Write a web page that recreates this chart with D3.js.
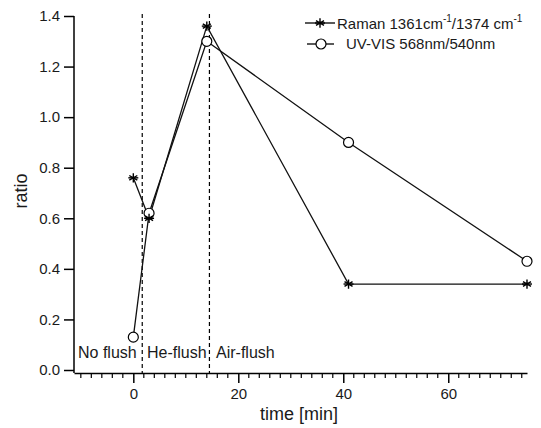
<!DOCTYPE html>
<html>
<head>
<meta charset="utf-8">
<script src="https://cdn.jsdelivr.net/npm/d3@7"></script>
<style>
  body { margin: 0; background: #fff; }
  svg { font-family: "Liberation Sans", Arial, sans-serif; }
</style>
</head>
<body>
<div id="chart"></div>
<script>
// Data
const ramanTime = [0, 3, 14, 41, 75];
const ramanRatio = [0.76, 0.60, 1.36, 0.34, 0.34];
const uvTime = [0, 3, 14, 41, 75];
const uvRatio = [0.13, 0.62, 1.30, 0.90, 0.43];
const flushTimes = [1.7, 14.5];
const flushLabels = ["No flush", "He-flush", "Air-flush"];
const xTicks = [0, 20, 40, 60];
const yTicks = [0, 0.2, 0.4, 0.6, 0.8, 1.0, 1.2, 1.4];

const width = 541, height = 428;

const svg = d3.select("#chart")
  .append("svg")
  .attr("width", width)
  .attr("height", height);

const xScale = d3.scaleLinear().domain([-11.3, 75]).range([74, 527]);
const yScale = d3.scaleLinear().domain([0, 1.4]).range([370, 16]);
const axisY = 373;

// y axis
const yAxis = d3.axisLeft(yScale)
  .tickValues(yTicks)
  .tickFormat(d3.format(".1f"))
  .tickSize(10)
  .tickSizeOuter(0);

const yAxisGroup = svg.append("g")
  .attr("transform", "translate(74,0)")
  .call(yAxis);
yAxisGroup.select(".domain").attr("d", `M0,${yScale(1.4)}V${axisY}`).attr("stroke-width", 1.5);
yAxisGroup.selectAll(".tick line").attr("stroke-width", 1.5);
yAxisGroup.selectAll("text")
  .style("font-size", "15px")
  .attr("fill", "#1a1a1a")
  .attr("x", -14);

// x axis, major and minor ticks
const xAxis = d3.axisBottom(xScale)
  .tickValues(xTicks)
  .tickSize(10)
  .tickSizeOuter(0);

const xAxisGroup = svg.append("g")
  .attr("transform", `translate(0,${axisY})`)
  .call(xAxis);
xAxisGroup.select(".domain").attr("stroke-width", 1.5);
xAxisGroup.selectAll(".tick line").attr("stroke-width", 1.5);
xAxisGroup.selectAll("text")
  .style("font-size", "15px")
  .attr("fill", "#1a1a1a")
  .attr("y", 15);

const minorTicks = d3.range(-10, 76, 2).filter(function (d) { return d % 20 !== 0; });
svg.append("g")
  .selectAll("line")
  .data(minorTicks)
  .enter()
  .append("line")
  .attr("x1", function (d) { return xScale(d); })
  .attr("x2", function (d) { return xScale(d); })
  .attr("y1", axisY)
  .attr("y2", axisY + 5)
  .attr("stroke", "#000")
  .attr("stroke-width", 1.2);

// axis titles
svg.append("text")
  .attr("x", 299)
  .attr("y", 420)
  .attr("text-anchor", "middle")
  .style("font-size", "18px")
  .attr("fill", "#1a1a1a")
  .text("time [min]");

svg.append("text")
  .attr("transform", "translate(27,191) rotate(-90)")
  .attr("text-anchor", "middle")
  .style("font-size", "18px")
  .attr("fill", "#1a1a1a")
  .text("ratio");

// dashed flush markers
svg.append("g")
  .selectAll("line")
  .data(flushTimes)
  .enter()
  .append("line")
  .attr("x1", function (d) { return xScale(d); })
  .attr("x2", function (d) { return xScale(d); })
  .attr("y1", 14)
  .attr("y2", axisY)
  .attr("stroke", "#000")
  .attr("stroke-width", 1.2)
  .attr("stroke-dasharray", "4,3");

const labelX = [78, 147, 216];
svg.append("g")
  .selectAll("text")
  .data(flushLabels)
  .enter()
  .append("text")
  .attr("x", function (d, i) { return labelX[i]; })
  .attr("y", 358)
  .style("font-size", "16px")
  .attr("fill", "#1a1a1a")
  .text(function (d) { return d; });

// series
const line = d3.line()
  .x(function (d) { return xScale(d[0]); })
  .y(function (d) { return yScale(d[1]); });

const ramanData = ramanTime.map(function (t, i) { return [t, ramanRatio[i]]; });
const uvData = uvTime.map(function (t, i) { return [t, uvRatio[i]]; });

svg.append("path")
  .datum(uvData)
  .attr("d", line)
  .attr("fill", "none")
  .attr("stroke", "#111")
  .attr("stroke-width", 1.3);

svg.append("path")
  .datum(ramanData)
  .attr("d", line)
  .attr("fill", "none")
  .attr("stroke", "#111")
  .attr("stroke-width", 1.3);

const asterisk = d3.symbol().type(d3.symbolAsterisk).size(60);

function drawStar(g, x, y) {
  g.append("path")
    .attr("d", asterisk)
    .attr("transform", `translate(${x},${y})`)
    .attr("fill", "none")
    .attr("stroke", "#000")
    .attr("stroke-width", 1.4);
  g.append("line")
    .attr("x1", x - 5).attr("x2", x + 5)
    .attr("y1", y).attr("y2", y)
    .attr("stroke", "#000")
    .attr("stroke-width", 1.4);
}

function drawCircle(g, x, y) {
  g.append("circle")
    .attr("cx", x)
    .attr("cy", y)
    .attr("r", 5)
    .attr("fill", "#fff")
    .attr("stroke", "#000")
    .attr("stroke-width", 1.2);
}

const markers = svg.append("g");
uvData.forEach(function (d) { drawCircle(markers, xScale(d[0]), yScale(d[1])); });
ramanData.forEach(function (d) { drawStar(markers, xScale(d[0]), yScale(d[1])); });

// legend
const legend = svg.append("g");
legend.append("line")
  .attr("x1", 305).attr("x2", 335).attr("y1", 23).attr("y2", 23)
  .attr("stroke", "#000").attr("stroke-width", 1.3);
drawStar(legend, 320, 23);
legend.append("line")
  .attr("x1", 307).attr("x2", 334).attr("y1", 44).attr("y2", 44)
  .attr("stroke", "#000").attr("stroke-width", 1.3);
drawCircle(legend, 321, 44);

const ramanText = legend.append("text")
  .attr("x", 337)
  .attr("y", 29)
  .style("font-size", "15px")
  .attr("fill", "#1a1a1a");
ramanText.append("tspan").text("Raman 1361cm");
ramanText.append("tspan").attr("dy", -7).style("font-size", "10px").text("-1");
ramanText.append("tspan").attr("dy", 7).text("/1374 cm");
ramanText.append("tspan").attr("dy", -7).style("font-size", "10px").text("-1");

legend.append("text")
  .attr("x", 346)
  .attr("y", 49)
  .style("font-size", "15px")
  .attr("fill", "#1a1a1a")
  .text("UV-VIS 568nm/540nm");
</script>
</body>
</html>
